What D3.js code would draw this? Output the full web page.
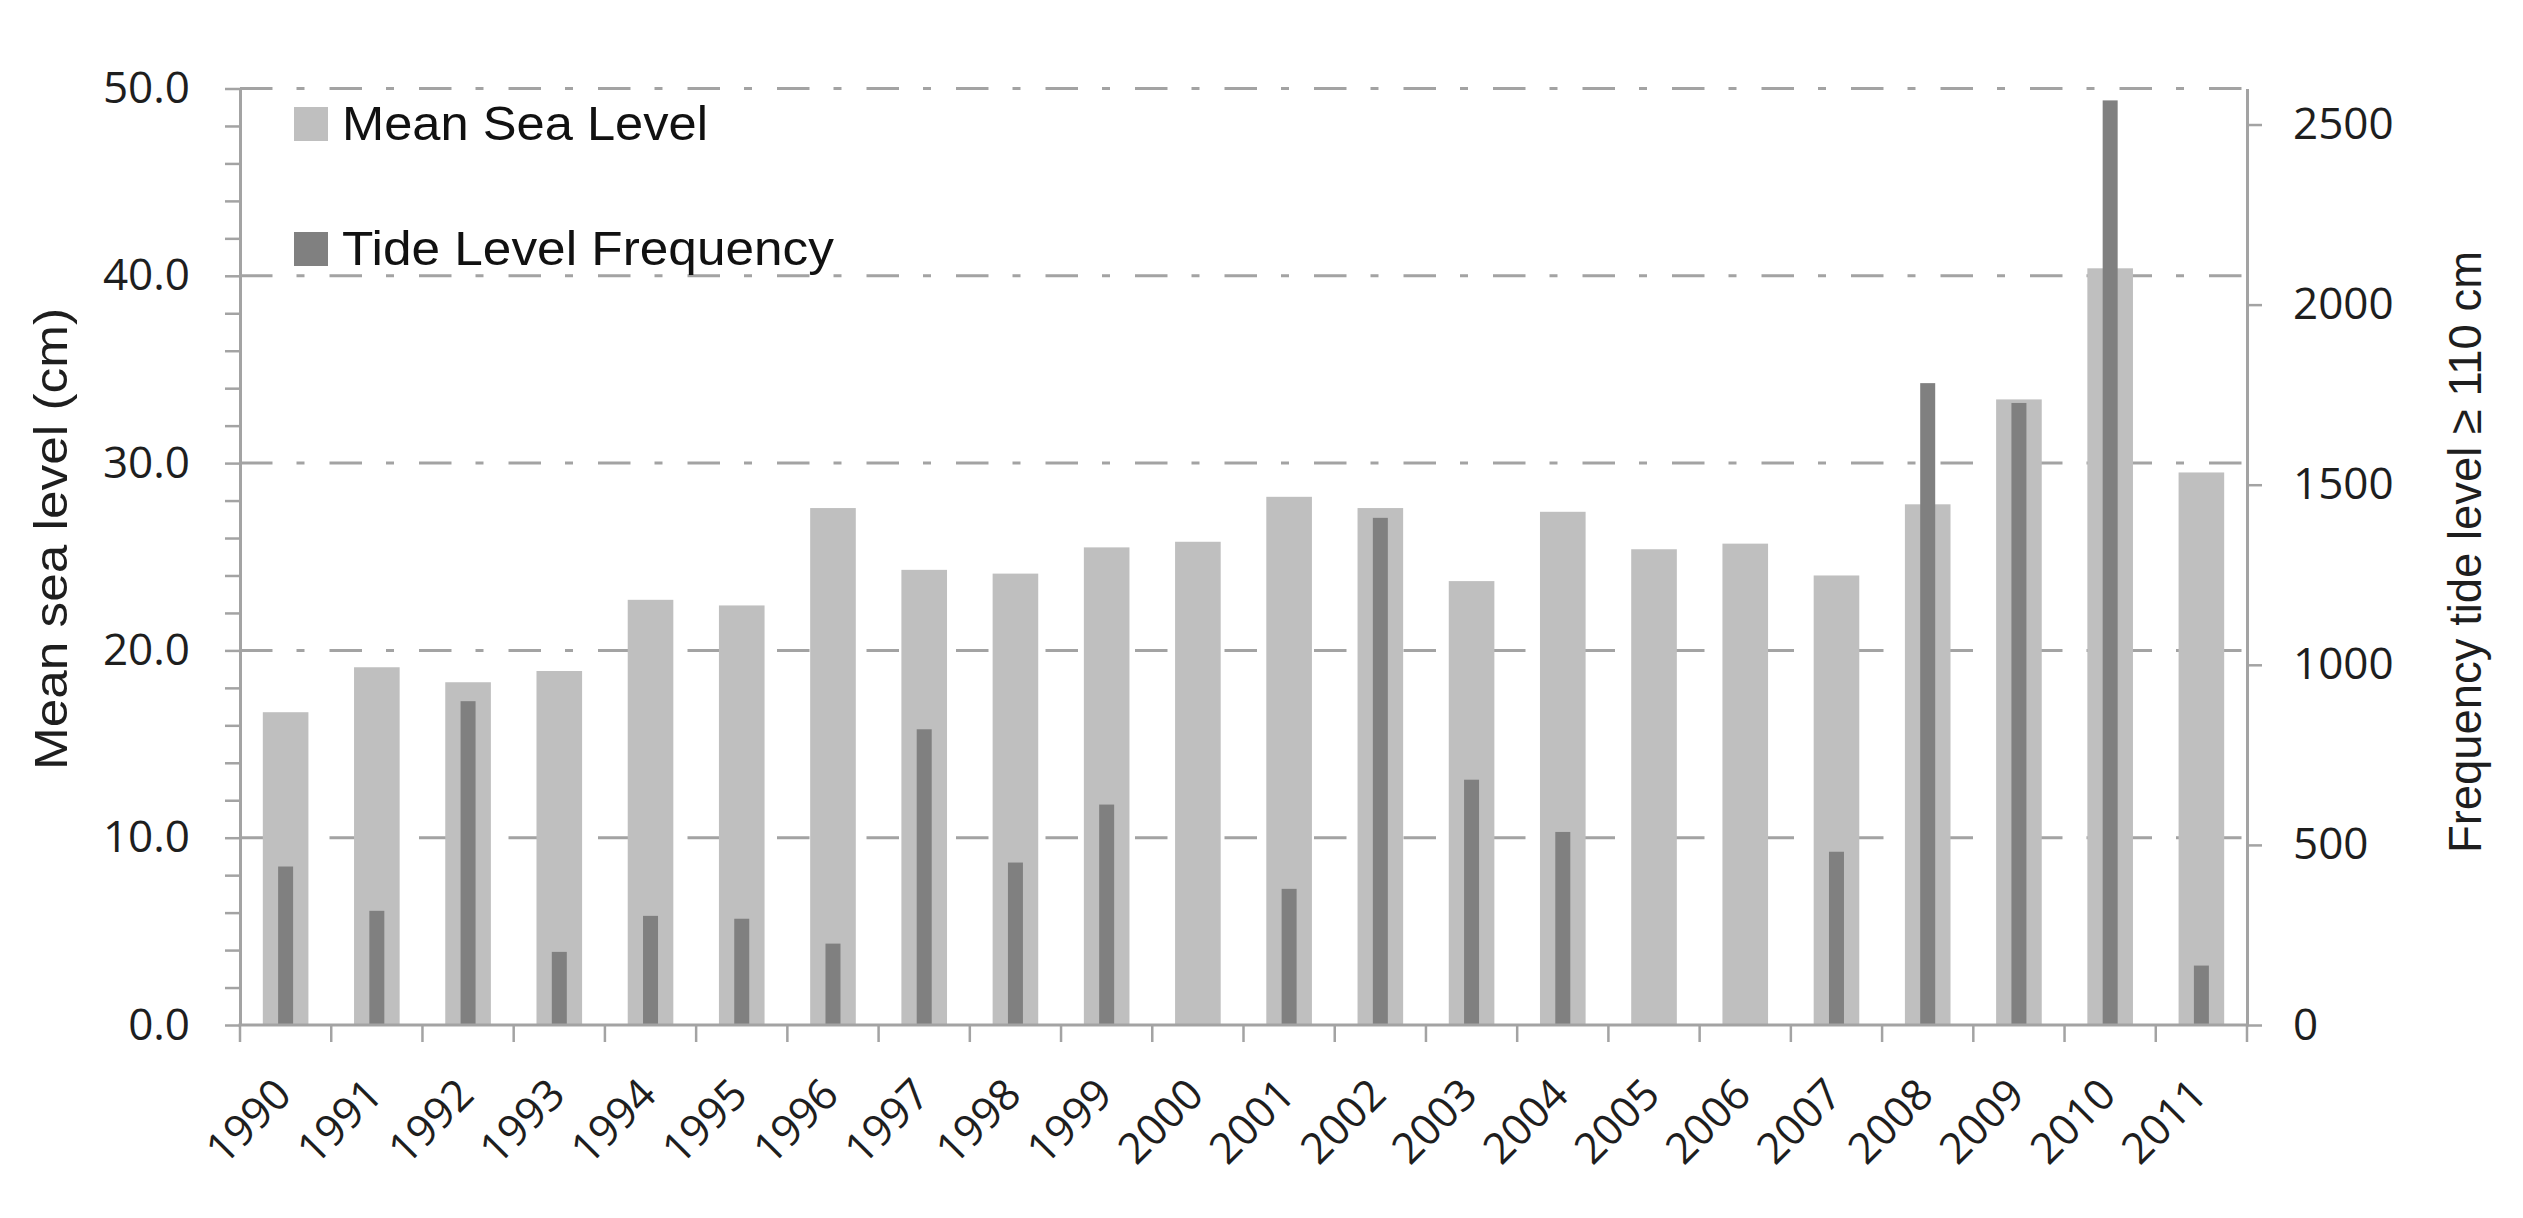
<!DOCTYPE html>
<html>
<head>
<meta charset="utf-8">
<script src="https://cdn.jsdelivr.net/npm/d3@7"></script>
<style>
  html, body { margin: 0; padding: 0; background: #ffffff; }
  svg { display: block; }
</style>
</head>
<body>
<script>
// ---- data ----
const years = ["1990","1991","1992","1993","1994","1995","1996","1997","1998","1999","2000",
               "2001","2002","2003","2004","2005","2006","2007","2008","2009","2010","2011"];
const meanSeaLevel = [16.7, 19.1, 18.3, 18.9, 22.7, 22.4, 27.6, 24.3, 24.1, 25.5, 25.8,
                      28.2, 27.6, 23.7, 27.4, 25.4, 25.7, 24.0, 27.8, 33.4, 40.4, 29.5];
const tideFrequency = [440, 317, 899, 203, 303, 295, 226, 821, 451, 612, null,
                       378, 1408, 681, 536, null, null, 481, 1782, 1727, 2567, 165];
const leftTicks = [0, 10, 20, 30, 40, 50];
const leftMinorTicks = [2,4,6,8,12,14,16,18,22,24,26,28,32,34,36,38,42,44,46,48];
const rightTicks = [0, 500, 1000, 1500, 2000, 2500];
const legendLabels = ["Mean Sea Level", "Tide Level Frequency"];
const leftTitle = "Mean sea level (cm)";
const rightTitle = "Frequency tide level \u2265 110 cm";

// ---- layout ----
const W = 2523, H = 1218;
const xL = 240, xR = 2247, yTop = 88.5, yBot = 1025;
const lightColor = "#bfbfbf", darkColor = "#808080", axisColor = "#a3a3a3", textColor = "#1e1e1e";
const tickFont = "'Open Sans', 'DejaVu Sans', sans-serif";

const svg = d3.select("body").append("svg").attr("width", W).attr("height", H);
svg.append("rect").attr("width", W).attr("height", H).attr("fill", "#fff");

const x = d3.scaleBand().domain(years).range([xL, xR]).paddingInner(0).paddingOuter(0);
const yLeft = d3.scaleLinear().domain([0, 50]).range([yBot, yTop]);
const yRight = d3.scaleLinear().domain([0, 2600]).range([yBot, yTop]);
const bw = x.bandwidth();
const lightW = bw * 0.5;
const darkW = 15;

// gridlines
svg.append("g").selectAll("line").data(leftTicks.filter(d => d > 0)).join("line")
  .attr("x1", xL).attr("x2", xR)
  .attr("y1", d => yLeft(d)).attr("y2", d => yLeft(d))
  .attr("stroke", axisColor).attr("stroke-width", 3)
  .attr("stroke-dasharray", "32.5 24 8 25");

// light bars (mean sea level)
svg.append("g").selectAll("rect").data(years).join("rect")
  .attr("x", d => x(d) + bw / 2 - lightW / 2)
  .attr("width", lightW)
  .attr("y", (d, i) => yLeft(meanSeaLevel[i]))
  .attr("height", (d, i) => yBot - yLeft(meanSeaLevel[i]))
  .attr("fill", lightColor);

// dark bars (tide level frequency)
svg.append("g").selectAll("rect").data(years.filter((d, i) => tideFrequency[i] != null)).join("rect")
  .attr("x", d => x(d) + bw / 2 - darkW / 2)
  .attr("width", darkW)
  .attr("y", d => yRight(tideFrequency[years.indexOf(d)]))
  .attr("height", d => yBot - yRight(tideFrequency[years.indexOf(d)]))
  .attr("fill", darkColor);

// left axis
const leftAxis = svg.append("g").attr("transform", `translate(${xL},0)`)
  .call(d3.axisLeft(yLeft).tickValues(leftTicks).tickSize(15).tickSizeOuter(0)
        .tickPadding(35).tickFormat(d3.format(".1f")));
const leftMinor = svg.append("g").attr("transform", `translate(${xL},0)`)
  .call(d3.axisLeft(yLeft).tickValues(leftMinorTicks).tickSize(15).tickSizeOuter(0).tickFormat(""));
leftMinor.select(".domain").remove();

// right axis
const rightAxis = svg.append("g").attr("transform", `translate(${xR},0)`)
  .call(d3.axisRight(yRight).tickValues(rightTicks).tickSize(15).tickSizeOuter(0)
        .tickPadding(31).tickFormat(d3.format("d")));

[leftAxis, leftMinor, rightAxis].forEach(g => {
  g.selectAll(".domain").attr("stroke", axisColor).attr("stroke-width", 3);
  g.selectAll(".tick line").attr("stroke", axisColor).attr("stroke-width", 2.5);
  g.selectAll(".tick text").attr("fill", textColor)
    .style("font-family", tickFont).style("font-size", "44px");
});

// bottom axis (category boundaries)
const bottom = svg.append("g");
bottom.append("line").attr("x1", xL - 1.5).attr("x2", xR + 1.5).attr("y1", yBot).attr("y2", yBot)
  .attr("stroke", axisColor).attr("stroke-width", 3);
const boundaries = years.map(d => x(d)).concat([x(years[years.length - 1]) + bw]);
bottom.selectAll("line.tk").data(boundaries).join("line").attr("class", "tk")
  .attr("x1", d => d).attr("x2", d => d).attr("y1", yBot).attr("y2", yBot + 17)
  .attr("stroke", axisColor).attr("stroke-width", 2.5);
bottom.selectAll("text").data(years).join("text")
  .attr("transform", d => `translate(${x(d) + bw / 2 + 8},${yBot + 72}) rotate(-45)`)
  .attr("text-anchor", "end")
  .attr("fill", textColor)
  .style("font-family", tickFont).style("font-size", "43px")
  .text(d => d);

// axis titles
svg.append("text")
  .attr("transform", `translate(67,539) rotate(-90)`)
  .attr("text-anchor", "middle").attr("fill", textColor)
  .style("font-family", "'Liberation Sans', Arial, sans-serif").style("font-size", "47px")
  .attr("textLength", 462).attr("lengthAdjust", "spacingAndGlyphs")
  .text(leftTitle);
svg.append("text")
  .attr("transform", `translate(2481,552) rotate(-90)`)
  .attr("text-anchor", "middle").attr("fill", textColor)
  .style("font-family", "'Liberation Sans', Arial, sans-serif").style("font-size", "47px")
  .attr("textLength", 602).attr("lengthAdjust", "spacingAndGlyphs")
  .text(rightTitle);

// legend
const legendColors = [lightColor, darkColor];
const legendY = [140, 265];
const legendLen = [366, 492];
const lg = svg.append("g");
legendLabels.forEach((lab, i) => {
  lg.append("rect").attr("x", 294).attr("y", legendY[i] - 33).attr("width", 34).attr("height", 34)
    .attr("fill", legendColors[i]);
  lg.append("text").attr("x", 342).attr("y", legendY[i]).attr("fill", "#111")
    .style("font-family", "'Liberation Sans', Arial, sans-serif").style("font-size", "49px")
    .attr("textLength", legendLen[i]).attr("lengthAdjust", "spacingAndGlyphs")
    .text(lab);
});
</script>
</body>
</html>
